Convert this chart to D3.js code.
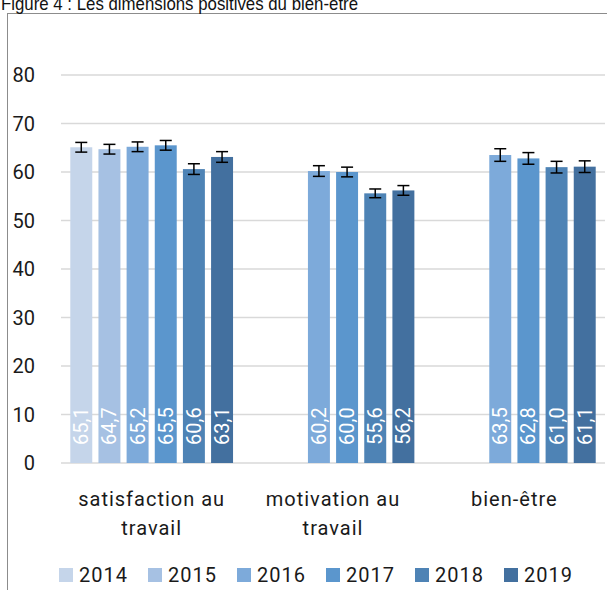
<!DOCTYPE html>
<html>
<head>
<meta charset="utf-8">
<script src="https://cdn.jsdelivr.net/npm/d3@7"></script>
<style>
	body { margin: 0; background: #fff; }
	svg { display: block; }
	.tick-label, .cat-label, .legend-label { font-family: Roboto, "DejaVu Sans", sans-serif; fill: #1a1a1a; }
</style>
</head>
<body>
<div id="graph"></div>
<script>
const categories = [["satisfaction au", "travail"], ["motivation au", "travail"], ["bien-être"]];
const years = ["2014", "2015", "2016", "2017", "2018", "2019"];
const colors = ["#c5d5ea", "#a6c1e3", "#7daada", "#5b96cd", "#4e83b5", "#43709f"];

// values per category, one per year (null = no bar)
const satisfaction = [65.1, 64.7, 65.2, 65.5, 60.6, 63.1];
const motivation = [null, null, 60.2, 60.0, 55.6, 56.2];
const bienEtre = [null, null, 63.5, 62.8, 61.0, 61.1];

// half width of the error bars
const errSatisfaction = [1.0, 1.0, 1.0, 1.0, 1.1, 1.1];
const errMotivation = [null, null, 1.1, 1.0, 0.9, 1.0];
const errBienEtre = [null, null, 1.3, 1.2, 1.2, 1.2];

const yTicks = [0, 10, 20, 30, 40, 50, 60, 70, 80];

const width = 607, height = 590;
const margin = {top: 75, right: 2, bottom: 127, left: 61};

const seriesByCat = [satisfaction, motivation, bienEtre];
const errByCat = [errSatisfaction, errMotivation, errBienEtre];

let data = [];
seriesByCat.forEach((vals, ci) => {
	vals.forEach((v, yi) => {
		if (v !== null) data.push({cat: ci, year: years[yi], color: colors[yi], value: v, err: errByCat[ci][yi]});
	});
});

const svg = d3.select("#graph")
	.append("svg")
	.attr("width", width)
	.attr("height", height);

// frame + title
svg.append("rect")
	.attr("x", 7.5).attr("y", 13.5)
	.attr("width", width + 10).attr("height", height)
	.attr("fill", "none")
	.attr("stroke", "#8c8c8c")
	.attr("stroke-width", 1);

svg.append("text")
	.attr("x", 1).attr("y", 9.5)
	.attr("font-family", "'Liberation Sans', Arial, sans-serif")
	.attr("font-size", 19)
	.attr("fill", "#111")
	.attr("textLength", 357)
	.attr("lengthAdjust", "spacingAndGlyphs")
	.text("Figure 4 : Les dimensions positives du bien-être");

const x0 = d3.scaleBand()
	.domain(d3.range(categories.length))
	.range([margin.left, width - margin.right]);

const x1 = d3.scaleBand()
	.domain(years)
	.range([0, x0.bandwidth()])
	.paddingInner(0.22)
	.paddingOuter(0.33);

const y = d3.scaleLinear()
	.domain([0, 80])
	.range([height - margin.bottom, margin.top]);

// gridlines
svg.append("g")
	.selectAll("line")
	.data(yTicks)
	.enter().append("line")
	.attr("x1", margin.left)
	.attr("x2", width - margin.right)
	.attr("y1", (d) => y(d))
	.attr("y2", (d) => y(d))
	.attr("stroke", "#d9d9d9")
	.attr("stroke-width", 1.5);

// y tick labels
svg.append("g")
	.selectAll("text")
	.data(yTicks)
	.enter().append("text")
	.attr("class", "tick-label")
	.attr("x", 35)
	.attr("y", (d) => y(d))
	.attr("dy", "0.36em")
	.attr("text-anchor", "end")
	.attr("font-size", 20)
	.text((d) => d);

// bars
const bx = (d) => x0(d.cat) + x1(d.year);

svg.append("g")
	.selectAll("rect")
	.data(data)
	.enter().append("rect")
	.attr("x", bx)
	.attr("y", (d) => y(d.value))
	.attr("width", x1.bandwidth())
	.attr("height", (d) => y(0) - y(d.value))
	.attr("fill", (d) => d.color);

// error bars
const eb = svg.append("g")
	.attr("stroke", "#000")
	.attr("stroke-width", 1.5);

data.forEach((d) => {
	const cx = bx(d) + x1.bandwidth() / 2;
	const top = y(d.value + d.err), bot = y(d.value - d.err);
	eb.append("line").attr("x1", cx).attr("x2", cx).attr("y1", top).attr("y2", bot);
	eb.append("line").attr("x1", cx - 6).attr("x2", cx + 6).attr("y1", top).attr("y2", top);
	eb.append("line").attr("x1", cx - 6).attr("x2", cx + 6).attr("y1", bot).attr("y2", bot);
});

// value labels, rotated inside bars
svg.append("g")
	.selectAll("text")
	.data(data)
	.enter().append("text")
	.attr("transform", (d) => "translate(" + (bx(d) + x1.bandwidth() / 2 + 7) + "," + (y(0) - 18) + ") rotate(-90)")
	.attr("font-family", "Roboto, 'DejaVu Sans', sans-serif")
	.attr("font-size", 20)
	.attr("fill", "#fff")
	.text((d) => d.value.toFixed(1).replace(".", ","));

// category labels
const cl = svg.append("g");
categories.forEach((lines, ci) => {
	const t = cl.append("text")
		.attr("class", "cat-label")
		.attr("text-anchor", "middle")
		.attr("font-size", 20)
		.attr("letter-spacing", 1);
	lines.forEach((ln, li) => {
		t.append("tspan")
			.attr("x", x0(ci) + x0.bandwidth() / 2)
			.attr("y", 506 + li * 29)
			.text(ln);
	});
});

// legend
const lg = svg.append("g")
	.selectAll("g")
	.data(years)
	.enter().append("g")
	.attr("transform", (d, i) => "translate(" + (59 + i * 89) + ",568)");

lg.append("rect")
	.attr("width", 14).attr("height", 14)
	.attr("fill", (d, i) => colors[i]);

lg.append("text")
	.attr("class", "legend-label")
	.attr("x", 20).attr("y", 14)
	.attr("font-size", 20)
	.attr("letter-spacing", 1)
	.text((d) => d);
</script>
</body>
</html>
